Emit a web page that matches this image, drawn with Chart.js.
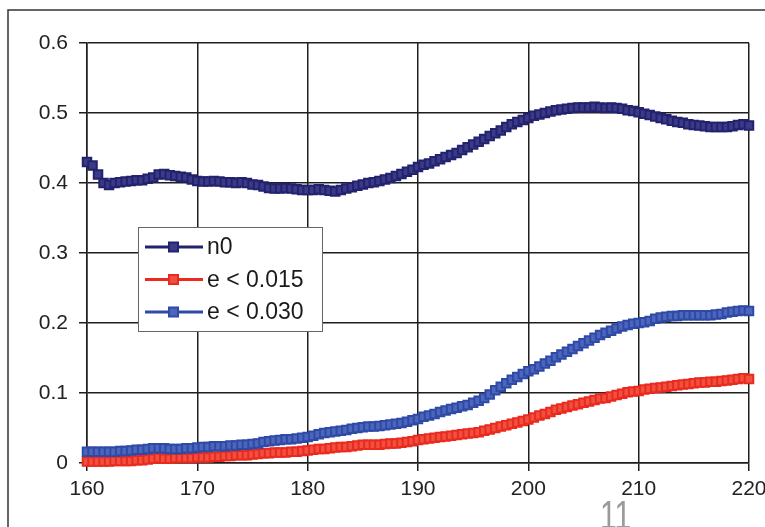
<!DOCTYPE html>
<html>
<head>
<meta charset="utf-8">
<script src="https://cdn.jsdelivr.net/npm/chart.js@4/dist/chart.umd.min.js"></script>
<style>
  html, body { margin: 0; padding: 0; background: #fff; overflow: hidden; }
  #wrap { width: 780px; height: 527px; }
</style>
</head>
<body>
<div id="wrap"><canvas id="c" width="780" height="527"></canvas></div>
<script>
// Sample positions (x), one every half unit
const xValues = [
  160, 160.5, 161, 161.5, 162, 162.5, 163, 163.5, 164, 164.5,
  165, 165.5, 166, 166.5, 167, 167.5, 168, 168.5, 169, 169.5,
  170, 170.5, 171, 171.5, 172, 172.5, 173, 173.5, 174, 174.5,
  175, 175.5, 176, 176.5, 177, 177.5, 178, 178.5, 179, 179.5,
  180, 180.5, 181, 181.5, 182, 182.5, 183, 183.5, 184, 184.5,
  185, 185.5, 186, 186.5, 187, 187.5, 188, 188.5, 189, 189.5,
  190, 190.5, 191, 191.5, 192, 192.5, 193, 193.5, 194, 194.5,
  195, 195.5, 196, 196.5, 197, 197.5, 198, 198.5, 199, 199.5,
  200, 200.5, 201, 201.5, 202, 202.5, 203, 203.5, 204, 204.5,
  205, 205.5, 206, 206.5, 207, 207.5, 208, 208.5, 209, 209.5,
  210, 210.5, 211, 211.5, 212, 212.5, 213, 213.5, 214, 214.5,
  215, 215.5, 216, 216.5, 217, 217.5, 218, 218.5, 219, 219.5,
  220, 220.5
];

const n0 = [
  0.430, 0.425, 0.412, 0.400, 0.397, 0.400, 0.401, 0.402, 0.403, 0.404,
  0.404, 0.406, 0.408, 0.412, 0.413, 0.411, 0.410, 0.409, 0.408, 0.405,
  0.403, 0.402, 0.402, 0.403, 0.402, 0.401, 0.401, 0.400, 0.401, 0.400,
  0.398, 0.397, 0.395, 0.393, 0.392, 0.392, 0.393, 0.392, 0.391, 0.390,
  0.390, 0.390, 0.391, 0.390, 0.389, 0.388, 0.390, 0.392, 0.394, 0.396,
  0.398, 0.400, 0.401, 0.403, 0.405, 0.407, 0.410, 0.413, 0.416, 0.419,
  0.423, 0.426, 0.428, 0.431, 0.434, 0.437, 0.440, 0.443, 0.447, 0.451,
  0.455, 0.459, 0.463, 0.467, 0.471, 0.475, 0.480, 0.484, 0.487, 0.490,
  0.493, 0.496, 0.498, 0.500, 0.502, 0.504, 0.505, 0.506, 0.507, 0.508,
  0.508, 0.508, 0.509, 0.508, 0.507, 0.508, 0.507, 0.506, 0.504, 0.503,
  0.501, 0.499, 0.497, 0.495, 0.493, 0.491, 0.489, 0.487, 0.486, 0.484,
  0.483, 0.482, 0.481, 0.480, 0.480, 0.480, 0.480, 0.481, 0.483, 0.484,
  0.482, 0.480
];

const e015 = [
  0.002, 0.002, 0.002, 0.002, 0.002, 0.003, 0.003, 0.003, 0.003, 0.004,
  0.004, 0.005, 0.006, 0.007, 0.006, 0.006, 0.007, 0.007, 0.007, 0.007,
  0.008, 0.008, 0.008, 0.009, 0.009, 0.010, 0.010, 0.011, 0.011, 0.011,
  0.012, 0.013, 0.014, 0.014, 0.015, 0.015, 0.015, 0.016, 0.016, 0.017,
  0.018, 0.019, 0.020, 0.020, 0.021, 0.022, 0.023, 0.023, 0.024, 0.025,
  0.026, 0.026, 0.026, 0.026, 0.027, 0.028, 0.028, 0.029, 0.030, 0.031,
  0.033, 0.034, 0.035, 0.036, 0.037, 0.038, 0.039, 0.040, 0.041, 0.042,
  0.043, 0.044, 0.046, 0.048, 0.050, 0.052, 0.054, 0.056, 0.058, 0.060,
  0.062, 0.065, 0.068, 0.070, 0.073, 0.076, 0.078, 0.080, 0.082, 0.084,
  0.086, 0.088, 0.090, 0.092, 0.093, 0.095, 0.097, 0.099, 0.101, 0.102,
  0.103, 0.105, 0.106, 0.107, 0.108, 0.109, 0.110, 0.111, 0.112, 0.113,
  0.114, 0.115, 0.115, 0.116, 0.116, 0.117, 0.118, 0.119, 0.120, 0.121,
  0.120, 0.120
];

const e030 = [
  0.016, 0.016, 0.016, 0.016, 0.016, 0.016, 0.017, 0.017, 0.018, 0.019,
  0.019, 0.020, 0.021, 0.021, 0.021, 0.020, 0.020, 0.020, 0.021, 0.021,
  0.022, 0.023, 0.023, 0.024, 0.024, 0.024, 0.025, 0.025, 0.026, 0.026,
  0.027, 0.028, 0.030, 0.031, 0.032, 0.033, 0.034, 0.034, 0.035, 0.036,
  0.037, 0.039, 0.041, 0.043, 0.044, 0.045, 0.046, 0.047, 0.049, 0.050,
  0.051, 0.052, 0.052, 0.053, 0.054, 0.055, 0.056, 0.057, 0.059, 0.061,
  0.063, 0.066, 0.068, 0.070, 0.073, 0.075, 0.077, 0.079, 0.081, 0.083,
  0.086, 0.089, 0.093, 0.098, 0.104, 0.109, 0.114, 0.119, 0.123, 0.127,
  0.131, 0.134, 0.138, 0.142, 0.146, 0.151, 0.155, 0.159, 0.163, 0.167,
  0.171, 0.175, 0.179, 0.183, 0.186, 0.189, 0.192, 0.195, 0.197, 0.199,
  0.200, 0.201, 0.203, 0.206, 0.208, 0.209, 0.210, 0.210, 0.211, 0.211,
  0.211, 0.211, 0.211, 0.211, 0.212, 0.213, 0.215, 0.216, 0.217, 0.218,
  0.217, 0.216
];

const seriesLabels = ['n0', 'e < 0.015', 'e < 0.030'];
const seriesValues = [n0, e015, e030];
const lineColors = ['#23226f', '#ea2a1e', '#2f4aa6'];
const fillColors = ['#3b3a86', '#f0503f', '#4c66bb'];

const xTicks = [160, 170, 180, 190, 200, 210, 220];
const yTicks = [0, 0.1, 0.2, 0.3, 0.4, 0.5, 0.6];

const FONT = '"Liberation Sans", Arial, sans-serif';
const GRID = '#1e1e1e';

// Legend box drawn in the plot area
const boxLegend = {
  id: 'boxLegend',
  afterDatasetsDraw(chart) {
    const ctx = chart.ctx;
    const left = 138, top = 227, w = 184, h = 104;
    ctx.save();
    ctx.fillStyle = '#ffffff';
    ctx.fillRect(left, top, w, h);
    ctx.strokeStyle = '#666';
    ctx.lineWidth = 1;
    ctx.strokeRect(left + 0.5, top + 0.5, w, h);
    ctx.font = '23px ' + FONT;
    ctx.textBaseline = 'middle';
    chart.data.datasets.forEach((ds, i) => {
      const y = top + 20 + i * 32.5;
      ctx.strokeStyle = ds.borderColor;
      ctx.lineWidth = 3;
      ctx.beginPath();
      ctx.moveTo(145, y);
      ctx.lineTo(203, y);
      ctx.stroke();
      ctx.fillStyle = ds.pointBackgroundColor;
      ctx.fillRect(169, y - 4.5, 9, 9);
      ctx.lineWidth = 2;
      ctx.strokeRect(169, y - 4.5, 9, 9);
      ctx.fillStyle = '#1a1a1a';
      ctx.fillText(ds.label, 207, y + 1);
    });
    ctx.restore();
  }
};

// Outer frame and page number
const frame = {
  id: 'frame',
  afterDraw(chart) {
    const ctx = chart.ctx;
    ctx.save();
    ctx.strokeStyle = '#333';
    ctx.lineWidth = 1.5;
    ctx.beginPath();
    ctx.moveTo(8, 540);
    ctx.lineTo(8, 10);
    ctx.lineTo(800, 10);
    ctx.stroke();
    ctx.fillStyle = '#9a9a9a';
    ctx.font = '40px ' + FONT;
    ctx.textAlign = 'left';
    ctx.textBaseline = 'alphabetic';
    ctx.translate(600, 529);
    ctx.scale(0.75, 1);
    ctx.fillText('11', 0, 0);
    ctx.restore();
  }
};

new Chart(document.getElementById('c'), {
  type: 'line',
  data: {
    datasets: seriesLabels.map((label, i) => ({
      label,
      data: xValues.map((x, k) => ({ x, y: seriesValues[i][k] })),
      borderColor: lineColors[i],
      backgroundColor: fillColors[i],
      pointBackgroundColor: fillColors[i],
      pointBorderColor: lineColors[i],
      borderWidth: 3,
      pointStyle: 'rect',
      pointRadius: 6,
      pointBorderWidth: 2,
      tension: 0,
      clip: false,
      order: 3 - i
    }))
  },
  options: {
    responsive: false,
    animation: false,
    layout: { padding: { left: 0, right: 31, top: 43, bottom: 0 } },
    plugins: { legend: { display: false }, tooltip: { enabled: false } },
    scales: {
      x: {
        type: 'linear',
        min: 160, max: 220,
        afterBuildTicks(scale) { scale.ticks = xTicks.map(v => ({ value: v })); },
        afterFit(scale) { scale.height = 64; },
        ticks: {
          font: { family: FONT, size: 21 },
          color: '#222',
          padding: 6,
          maxRotation: 0,
          callback: v => String(v)
        },
        grid: { color: GRID, lineWidth: 1.5, tickLength: 8, tickColor: GRID },
        border: { color: GRID, width: 1.5 }
      },
      y: {
        min: 0, max: 0.6,
        afterBuildTicks(scale) { scale.ticks = yTicks.map(v => ({ value: v })); },
        afterFit(scale) { scale.width = 87; },
        ticks: {
          font: { family: FONT, size: 21 },
          color: '#222',
          padding: 11,
          callback: v => (v === 0 ? '0' : v.toFixed(1))
        },
        grid: { color: GRID, lineWidth: 1.5, tickLength: 8, tickColor: GRID },
        border: { color: GRID, width: 1.5 }
      }
    }
  },
  plugins: [boxLegend, frame]
});
</script>
</body>
</html>
